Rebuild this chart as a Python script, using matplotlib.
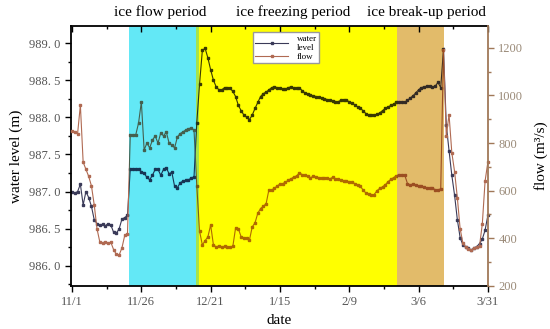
import matplotlib
matplotlib.use("Agg")
import matplotlib.pyplot as plt
from matplotlib.colors import to_rgb
from matplotlib.lines import Line2D
from matplotlib.ticker import MultipleLocator, FixedLocator, FuncFormatter
from matplotlib.transforms import Bbox, TransformedBbox, blended_transform_factory
import numpy as np

plt.rcParams['font.family'] = ['Liberation Serif', 'DejaVu Serif']

# days counted from 11/1
days = np.arange(151)

water_level = [
    987.00, 986.98, 987.00, 987.10, 986.82, 987.00, 986.92, 986.80, 986.62, 986.57,
    986.55, 986.56, 986.54, 986.57, 986.55, 986.45, 986.44, 986.50, 986.63, 986.65,
    986.68, 987.31, 987.31, 987.31, 987.30, 987.27, 987.25, 987.19, 987.16, 987.22,
    987.30, 987.30, 987.22, 987.30, 987.32, 987.24, 987.26, 987.07, 987.05, 987.12,
    987.14, 987.15, 987.16, 987.18, 987.20, 987.93, 988.45, 988.90, 988.93, 988.80,
    988.64, 988.50, 988.41, 988.37, 988.37, 988.40, 988.40, 988.39, 988.35, 988.28,
    988.16, 988.09, 988.03, 988.00, 987.97, 988.03, 988.12, 988.20, 988.28, 988.32,
    988.34, 988.37, 988.40, 988.41, 988.40, 988.39, 988.38, 988.38, 988.40, 988.41,
    988.39, 988.39, 988.40, 988.36, 988.33, 988.31, 988.30, 988.29, 988.28, 988.27,
    988.26, 988.25, 988.24, 988.23, 988.22, 988.21, 988.21, 988.23, 988.24, 988.23,
    988.21, 988.19, 988.17, 988.14, 988.12, 988.09, 988.05, 988.03, 988.03, 988.03,
    988.04, 988.06, 988.09, 988.12, 988.14, 988.16, 988.18, 988.20, 988.20, 988.21,
    988.20, 988.23, 988.26, 988.29, 988.33, 988.37, 988.40, 988.41, 988.42, 988.42,
    988.41, 988.42, 988.47, 988.40, 988.92, 987.90, 987.55, 987.22, 986.95, 986.62,
    986.38, 986.28, 986.26, 986.24, 986.21, 986.24, 986.26, 986.30, 986.36, 986.48,
    986.68,
]

flow = [
    850, 848, 840, 960, 720, 690, 660, 620, 540, 440,
    385, 380, 385, 380, 383, 352, 332, 330, 360, 412,
    420, 834, 834, 836, 885, 973, 771, 800, 780, 813,
    830, 800, 843, 830, 847, 800, 792, 780, 826, 840,
    847, 855, 860, 864, 855, 620, 430, 372, 390, 406,
    456, 372, 364, 368, 364, 366, 364, 364, 366, 444,
    440, 406, 402, 400, 393, 448, 465, 505, 525, 535,
    545, 603, 603, 610, 620, 628, 630, 635, 645, 650,
    658, 662, 675, 668, 666, 660, 655, 660, 658, 655,
    652, 654, 655, 650, 656, 650, 648, 645, 642, 640,
    638, 636, 630, 624, 618, 603, 590, 586, 582, 584,
    600, 610, 616, 625, 638, 648, 655, 663, 666, 668,
    666, 630, 625, 628, 624, 620, 618, 615, 612, 610,
    610, 605, 603, 608, 1190, 830, 920, 760, 680, 570,
    440, 380, 362, 355, 350, 358, 362, 368, 460, 640,
    720,
]

date_ticks = [0, 25, 50, 75, 100, 125, 150]
date_labels = ['11/1', '11/26', '12/21', '1/15', '2/9', '3/6', '3/31']

# shaded periods (in days)
span_edges = [-2, 20.6, 44.8, 45.8, 117.2, 134.2, 152]
span_colors = ['#ffffff', '#63e8f6', '#a6e34a', '#ffff00', '#e2bb6a', '#ffffff']

period_names = ['ice flow period', 'ice freezing period', 'ice break-up period']
period_x = [0.291, 0.533, 0.776]

wl_color = '#3a3a58'
fl_color = '#b06a52'


def multiply(c1, c2):
    a = to_rgb(c1)
    b = to_rgb(c2)
    return tuple(p * q for p, q in zip(a, b))


fig = plt.figure(figsize=(5.5, 3.29), dpi=100)
ax = fig.add_axes([0.129, 0.131, 0.758, 0.790])
ax2 = ax.twinx()

for x0, x1, c in zip(span_edges[:-1], span_edges[1:], span_colors):
    ax.axvspan(x0, x1, color=c, lw=0, zorder=0)
    for a, y, base in ((ax, water_level, wl_color), (ax2, flow, fl_color)):
        ln, = a.plot(days, y, color=multiply(base, c), lw=0.8,
                     marker='s', ms=1.6)
        ln.set_clip_box(TransformedBbox(
            Bbox([[x0, 0], [x1, 1]]),
            blended_transform_factory(a.transData, a.transAxes)))

ax.set_xlim(-0.4, 150)
ax.set_ylim(985.73, 989.23)
ax2.set_ylim(200, 1292)

ax.xaxis.set_major_locator(FixedLocator(date_ticks))
ax.set_xticklabels(date_labels)
ax.xaxis.set_minor_locator(MultipleLocator(12.5))
ax.yaxis.set_major_locator(MultipleLocator(0.5))
ax.yaxis.set_minor_locator(MultipleLocator(0.25))
ax.yaxis.set_major_formatter(FuncFormatter(lambda v, p: f'{v:.1f}'.replace('.', '. ')))
ax2.yaxis.set_major_locator(FixedLocator([200, 400, 600, 800, 1000, 1200]))
ax2.yaxis.set_minor_locator(MultipleLocator(100))

ax.tick_params(axis='both', which='major', direction='out', length=4, width=1,
               labelsize=9, labelcolor='#555555')
ax.tick_params(axis='both', which='minor', direction='out', length=2.5, width=1)
ax2.tick_params(axis='y', which='major', direction='out', length=4, width=1,
                color='#a07858', labelsize=9, labelcolor='#9a8a78')
ax2.tick_params(axis='y', which='minor', direction='out', length=2.5, width=1,
                color='#a07858')

top = ax.secondary_xaxis('top')
top.xaxis.set_major_locator(FixedLocator(date_ticks))
top.xaxis.set_minor_locator(MultipleLocator(12.5))
top.tick_params(which='major', direction='in', length=4, width=1, labeltop=False)
top.tick_params(which='minor', direction='in', length=2.5, width=1)
top.spines['top'].set_linewidth(1.3)

for s in ('left', 'bottom'):
    ax.spines[s].set_linewidth(1.3)
ax.spines['right'].set_visible(False)
ax.spines['top'].set_visible(False)
for s in ('left', 'bottom', 'top'):
    ax2.spines[s].set_visible(False)
ax2.spines['right'].set_color('#a07858')
ax2.spines['right'].set_linewidth(1.3)

ax.set_xlabel('date', fontsize=11, labelpad=4)
ax.set_ylabel('water level (m)', fontsize=11, labelpad=4)
ax2.set_ylabel('flow (m³/s)', fontsize=11, labelpad=8)

for name, px in zip(period_names, period_x):
    fig.text(px, 0.963, name, ha='center', va='center', fontsize=11)

h1 = Line2D([], [], color=wl_color, lw=0.8, marker='s', ms=1.6)
h2 = Line2D([], [], color=fl_color, lw=0.8, marker='s', ms=1.6)
ax2.legend([h1, h2], ['water\nlevel', 'flow'], loc='upper left',
           bbox_to_anchor=(0.437, 0.975), fontsize=6.5, numpoints=1,
           frameon=True, fancybox=False, edgecolor='#999999', framealpha=1,
           handlelength=3.6, borderpad=0.25, labelspacing=0.05,
           handletextpad=1.0, borderaxespad=0)

fig.savefig('out.png', dpi=100)
